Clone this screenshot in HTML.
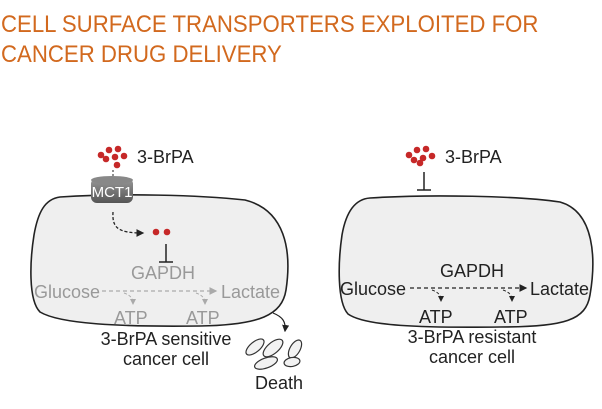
<!DOCTYPE html>
<html><head><meta charset="utf-8"><style>
html,body{margin:0;padding:0;background:#fff;}
.t{position:absolute;left:1px;top:10px;font-family:"Liberation Sans",sans-serif;color:#d2691e;font-size:24px;line-height:30px;transform:scaleX(0.925);transform-origin:0 0;white-space:nowrap;}
</style></head><body>
<div style="position:relative;width:602px;height:409px;overflow:hidden">
<div class="t">CELL SURFACE TRANSPORTERS EXPLOITED FOR<br>CANCER DRUG DELIVERY</div>
<svg width="602" height="409" style="position:absolute;left:0;top:0" font-family="Liberation Sans, sans-serif">
<defs><marker id="a" markerWidth="6" markerHeight="6" refX="5" refY="3" orient="auto"><path d="M0,0 L6,3 L0,6z" fill="#222"/></marker>
<marker id="g" markerWidth="6" markerHeight="6" refX="5" refY="3" orient="auto"><path d="M0,0 L6,3 L0,6z" fill="#aaa"/></marker>
<linearGradient id="cy" x1="0" x2="0" y1="0" y2="1"><stop offset="0" stop-color="#999"/><stop offset="1" stop-color="#555"/></linearGradient></defs>
<path d="M60,197 C120,193 200,195 245,200 C285,210 292,250 286,290 C282,315 260,325 200,326 C120,327 60,324 40,312 C28,300 30,260 34,235 C38,212 45,199 60,197Z" fill="#efefef" stroke="#222" stroke-width="1.6"/>
<g fill="#c62828"><circle cx="101" cy="155" r="3.3"/><circle cx="109" cy="150" r="3.3"/><circle cx="118" cy="149" r="3.3"/><circle cx="106" cy="159" r="3.3"/><circle cx="115" cy="157" r="3.3"/><circle cx="124" cy="156" r="3.3"/><circle cx="117" cy="165" r="3.3"/>
<circle cx="156" cy="232" r="3.3"/><circle cx="167" cy="232" r="3.3"/></g>
<text x="137" y="163" font-size="18" fill="#222">3-BrPA</text>
<line x1="113" y1="170" x2="113" y2="179" stroke="#222" stroke-dasharray="2,2"/>
<rect x="91" y="178" width="42" height="25" rx="6" fill="url(#cy)"/>
<ellipse cx="112" cy="180" rx="21" ry="4" fill="#888"/>
<text x="112" y="197" font-size="15" fill="#fff" text-anchor="middle">MCT1</text>
<path d="M113,212 C112,228 118,233 143,233" fill="none" stroke="#222" stroke-width="1.3" stroke-dasharray="3,2" marker-end="url(#a)"/>
<line x1="166" y1="244" x2="166" y2="262" stroke="#222" stroke-width="1.5"/><line x1="159" y1="262" x2="173" y2="262" stroke="#222" stroke-width="1.5"/>
<g fill="#999" font-size="18"><text x="163" y="279" text-anchor="middle">GAPDH</text><text x="34" y="298">Glucose</text><text x="221" y="298">Lactate</text><text x="114" y="324">ATP</text><text x="186" y="324">ATP</text></g>
<path d="M102,291 L216,291" stroke="#aaa" stroke-width="1.3" stroke-dasharray="4,3" marker-end="url(#g)"/>
<path d="M124,293 C130,295 133,298 133,304" fill="none" stroke="#aaa" stroke-dasharray="3,2" marker-end="url(#g)"/>
<path d="M196,293 C202,295 205,298 205,304" fill="none" stroke="#aaa" stroke-dasharray="3,2" marker-end="url(#g)"/>
<g fill="#222" font-size="18"><text x="166" y="345" text-anchor="middle">3-BrPA sensitive</text><text x="166" y="365" text-anchor="middle">cancer cell</text><text x="255" y="389">Death</text></g>
<path d="M273,313 C283,317 286,322 285,331" fill="none" stroke="#222" stroke-width="1.2" marker-end="url(#a)"/>
<g fill="#f2f2f2" stroke="#333" stroke-width="1.2">
<ellipse cx="255" cy="347" rx="11" ry="5" transform="rotate(-40 255 347)"/>
<ellipse cx="273" cy="348" rx="12" ry="5.5" transform="rotate(-40 273 348)"/>
<ellipse cx="295" cy="349" rx="10" ry="5" transform="rotate(-60 295 349)"/>
<ellipse cx="266" cy="363" rx="12" ry="5" transform="rotate(-20 266 363)"/>
<ellipse cx="292" cy="362" rx="8" ry="4.5" transform="rotate(-10 292 362)"/></g>
<path d="M370,198 C430,194 520,196 560,202 C595,212 596,260 590,295 C586,320 565,327 500,327 C420,328 365,326 348,314 C337,302 338,262 342,235 C346,212 355,199 370,198Z" fill="#efefef" stroke="#222" stroke-width="1.6"/>
<g fill="#c62828"><circle cx="409" cy="155" r="3.3"/><circle cx="417" cy="150" r="3.3"/><circle cx="426" cy="149" r="3.3"/><circle cx="414" cy="160" r="3.3"/><circle cx="423" cy="158" r="3.3"/><circle cx="432" cy="156" r="3.3"/><circle cx="420" cy="163" r="3.3"/></g>
<text x="445" y="163" font-size="18" fill="#222">3-BrPA</text>
<line x1="424" y1="172" x2="424" y2="190" stroke="#222" stroke-width="1.5"/><line x1="417" y1="190" x2="431" y2="190" stroke="#222" stroke-width="1.5"/>
<g fill="#222" font-size="18"><text x="472" y="277" text-anchor="middle">GAPDH</text><text x="340" y="295">Glucose</text><text x="530" y="295">Lactate</text><text x="419" y="323">ATP</text><text x="494" y="323">ATP</text>
<text x="472" y="343" text-anchor="middle">3-BrPA resistant</text><text x="472" y="363" text-anchor="middle">cancer cell</text></g>
<path d="M410,288 L526,288" stroke="#222" stroke-width="1.3" stroke-dasharray="4,3" marker-end="url(#a)"/>
<path d="M432,290 C438,292 441,295 441,301" fill="none" stroke="#222" stroke-dasharray="3,2" marker-end="url(#a)"/>
<path d="M503,290 C509,292 512,295 512,301" fill="none" stroke="#222" stroke-dasharray="3,2" marker-end="url(#a)"/>
</svg></div></body></html>
